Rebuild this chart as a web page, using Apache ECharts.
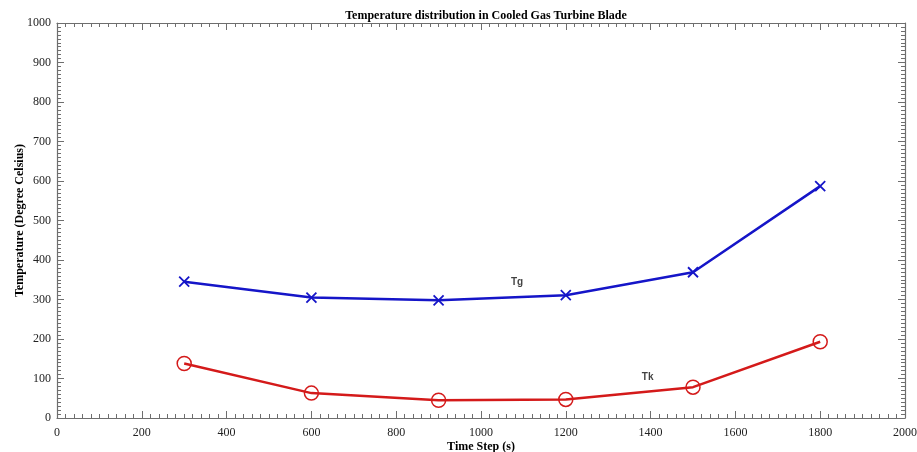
<!DOCTYPE html>
<html><head><meta charset="utf-8">
<script src="https://cdn.jsdelivr.net/npm/echarts@6/dist/echarts.min.js"></script>
<style>html,body{margin:0;padding:0;background:#fff}#c{width:917px;height:452px}</style>
</head><body><div id="c"></div>
<script>
const timeSteps = [300, 600, 900, 1200, 1500, 1800];
const tgValues = [345, 305, 298, 311, 369, 587];
const tkValues = [138, 63, 45, 47, 78, 193];
const tgLabelPos = [1085, 344];
const tkLabelPos = [1393, 104];

const chart = echarts.init(document.getElementById('c'));
const serif = 'Liberation Serif';
const axisCol = '#6e6e6e';
const xMark = 'path://M0,0L10,10M10,0L0,10';

function baseAxis(extra) {
  return Object.assign({
    min: 0,
    interval: 200,
    axisLine: { show: true, onZero: false, lineStyle: { color: axisCol, width: 1.2 } },
    axisTick: { show: true, inside: true, length: 7, lineStyle: { color: axisCol } },
    minorTick: { show: true, splitNumber: 10, length: 4, lineStyle: { color: axisCol } },
    splitLine: { show: false },
    minorSplitLine: { show: false }
  }, extra);
}
const plain = v => String(v);

chart.setOption({
  animation: false,
  backgroundColor: '#fff',
  title: {
    text: 'Temperature distribution in Cooled Gas Turbine Blade',
    left: 481, top: 5, textAlign: 'center',
    textStyle: { fontFamily: serif, fontWeight: 'bold', fontSize: 12, color: '#000' }
  },
  grid: { left: 57, right: 12, top: 23, bottom: 34, containLabel: false, outerBoundsMode: 'none' },
  xAxis: [
    baseAxis({
      type: 'value', max: 2000, position: 'bottom',
      name: 'Time Step (s)', nameLocation: 'middle', nameGap: 23, nameMoveOverlap: false,
      nameTextStyle: { fontFamily: serif, fontWeight: 'bold', fontSize: 12, color: '#000' },
      axisLabel: { fontFamily: serif, fontSize: 12, color: '#222', margin: 9, formatter: plain }
    }),
    baseAxis({ type: 'value', max: 2000, position: 'top', axisLabel: { show: false } })
  ],
  yAxis: [
    baseAxis({
      type: 'value', max: 1000, interval: 100, position: 'left',
      name: 'Temperature (Degree Celsius)', nameLocation: 'middle', nameGap: 31, nameMoveOverlap: false,
      nameTextStyle: { fontFamily: serif, fontWeight: 'bold', fontSize: 12, color: '#000' },
      axisLabel: { fontFamily: serif, fontSize: 12, color: '#222', margin: 6, formatter: plain }
    }),
    baseAxis({ type: 'value', max: 1000, interval: 100, position: 'right', axisLabel: { show: false } })
  ],
  series: [
    {
      type: 'line', name: 'Tg',
      data: timeSteps.map((t, i) => [t, tgValues[i]]),
      lineStyle: { color: '#1515c8', width: 2.5 },
      itemStyle: { color: 'none', borderColor: '#1515c8', borderWidth: 1.8 },
      symbol: xMark, symbolSize: 10, showAllSymbol: true
    },
    {
      type: 'line', name: 'Tk',
      data: timeSteps.map((t, i) => [t, tkValues[i]]),
      lineStyle: { color: '#d41a1a', width: 2.5 },
      itemStyle: { color: 'none', borderColor: '#d41a1a', borderWidth: 1.5 },
      symbol: 'circle', symbolSize: 14, showAllSymbol: true
    },
    {
      type: 'scatter', symbolSize: 0,
      data: [
        { value: tgLabelPos, label: { formatter: 'Tg' } },
        { value: tkLabelPos, label: { formatter: 'Tk' } }
      ],
      label: { show: true, position: 'inside', fontFamily: 'Liberation Sans', fontWeight: 'bold', fontSize: 10, color: '#111' },
      silent: true
    }
  ]
});
</script></body></html>
